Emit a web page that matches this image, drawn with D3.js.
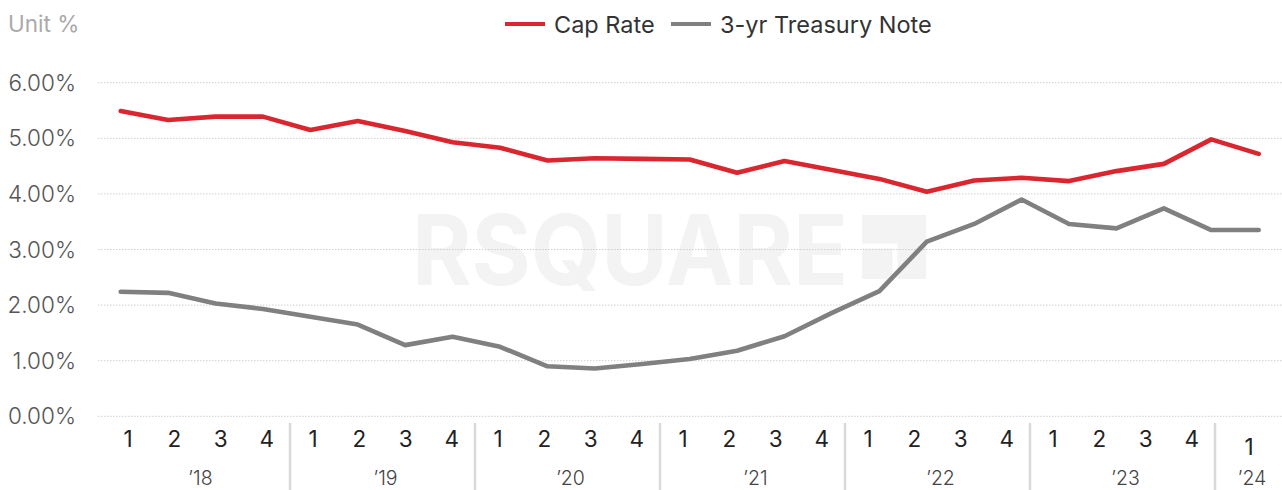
<!DOCTYPE html>
<html>
<head>
<meta charset="utf-8">
<script src="https://cdn.jsdelivr.net/npm/d3@7"></script>
<style>
  body { margin: 0; background: #fff; }
  svg { display: block; font-family: Inter, "Noto Sans", sans-serif; }
</style>
</head>
<body>
<div class="chart"></div>
<script>
// quarters shown on the axis
const years = ["’18", "’19", "’20", "’21", "’22", "’23", "’24"];
const quarters = ["1", "2", "3", "4"];
const periods = [
  "18Q1", "18Q2", "18Q3", "18Q4", "19Q1", "19Q2", "19Q3", "19Q4",
  "20Q1", "20Q2", "20Q3", "20Q4", "21Q1", "21Q2", "21Q3", "21Q4",
  "22Q1", "22Q2", "22Q3", "22Q4", "23Q1", "23Q2", "23Q3", "23Q4", "24Q1"
];

// values (%)
const capRate = [
  5.49, 5.33, 5.39, 5.39, 5.15, 5.31, 5.13, 4.93,
  4.83, 4.60, 4.64, 4.63, 4.62, 4.38, 4.59, 4.43,
  4.27, 4.04, 4.24, 4.29, 4.23, 4.41, 4.54, 4.98, 4.72
];
const treasury3y = [
  2.24, 2.22, 2.03, 1.93, 1.79, 1.65, 1.28, 1.43,
  1.25, 0.90, 0.86, 0.94, 1.03, 1.18, 1.44, 1.86,
  2.25, 3.14, 3.46, 3.90, 3.46, 3.38, 3.74, 3.35, 3.35
];
const yTicks = [0, 1, 2, 3, 4, 5, 6];

const width = 1282;
const height = 490;

const svg = d3.select('.chart')
  .append('svg')
  .attr('width', width)
  .attr('height', height);

// scales
const x = d3.scalePoint()
  .domain(periods)
  .range([120.7, 1258.7]);

const y = d3.scaleLinear()
  .domain([0, 6])
  .range([416.3, 82.7]);

// the category axis is laid out on its own grid
const axisKeys = periods.slice(0, 24);
const xLabel = d3.scaleBand()
  .domain(axisKeys)
  .range([105, 1215]);
const lastBand = [1215, 1283];

// unit label
svg.append('text')
  .attr('x', 8)
  .attr('y', 32)
  .attr('font-size', 22.5)
  .attr('fill', '#aaaaaa')
  .text('Unit %');

// watermark
const mark = svg.append('g').attr('fill', '#f3f3f3');
mark.append('text')
  .attr('x', 412)
  .attr('y', 285)
  .attr('font-size', 97)
  .attr('font-weight', 700)
  .attr('textLength', 436)
  .attr('lengthAdjust', 'spacingAndGlyphs')
  .text('RSQUARE');
mark.append('rect')
  .attr('x', 862).attr('y', 215)
  .attr('width', 64).attr('height', 64);
mark.append('path')
  .attr('d', 'M862 246 H895 V279')
  .attr('fill', 'none')
  .attr('stroke', '#fff')
  .attr('stroke-width', 5);

// gridlines
svg.append('g')
  .selectAll('line')
  .data(yTicks)
  .enter()
  .append('line')
  .attr('x1', 98)
  .attr('x2', width)
  .attr('y1', d => y(d))
  .attr('y2', d => y(d))
  .attr('stroke', '#cfcfcf')
  .attr('stroke-width', 1)
  .attr('stroke-dasharray', '1.5,1.5');

// y labels
svg.append('g')
  .selectAll('text')
  .data(yTicks)
  .enter()
  .append('text')
  .attr('x', 76)
  .attr('y', d => y(d) + 8)
  .attr('text-anchor', 'end')
  .attr('font-size', 22.5)
  .attr('font-weight', 300)
  .attr('fill', '#555555')
  .text(d => d3.format('.2f')(d) + '%');

// quarter labels
const qPos = p => p === '24Q1' ? (lastBand[0] + lastBand[1]) / 2 : xLabel(p) + xLabel.bandwidth() / 2;
svg.append('g')
  .selectAll('text')
  .data(periods)
  .enter()
  .append('text')
  .attr('x', d => qPos(d))
  .attr('y', d => d === '24Q1' ? 455 : 447)
  .attr('text-anchor', 'middle')
  .attr('font-size', 22.5)
  .attr('fill', '#222222')
  .text(d => quarters[+d.slice(3) - 1]);

// year labels and separators
const yearStart = i => i < 6 ? xLabel(axisKeys[i * 4]) : lastBand[0];
const yearEnd = i => i < 6 ? xLabel(axisKeys[i * 4 + 3]) + xLabel.bandwidth() : lastBand[1];
svg.append('g')
  .selectAll('text')
  .data(years)
  .enter()
  .append('text')
  .attr('x', (d, i) => (yearStart(i) + yearEnd(i)) / 2 + 3)
  .attr('y', 485)
  .attr('text-anchor', 'middle')
  .attr('font-size', 19.5)
  .attr('font-weight', 300)
  .attr('fill', '#444444')
  .text(d => d);

svg.append('g')
  .selectAll('line')
  .data(d3.range(1, 7))
  .enter()
  .append('line')
  .attr('x1', i => yearStart(i))
  .attr('x2', i => yearStart(i))
  .attr('y1', 423)
  .attr('y2', height)
  .attr('stroke', '#d9d9d9')
  .attr('stroke-width', 2.5);

// lines
const series = [
  { name: 'Cap Rate', values: capRate, color: '#d9262f' },
  { name: '3-yr Treasury Note', values: treasury3y, color: '#808080' }
];

const line = d3.line()
  .x((d, i) => x(periods[i]))
  .y(d => y(d));

svg.append('g')
  .selectAll('path')
  .data(series)
  .enter()
  .append('path')
  .attr('d', d => line(d.values))
  .attr('fill', 'none')
  .attr('stroke', d => d.color)
  .attr('stroke-width', 4.6)
  .attr('stroke-linejoin', 'round')
  .attr('stroke-linecap', 'round');

// legend
const legendX = [505, 671];
const legend = svg.append('g')
  .selectAll('g')
  .data(series)
  .enter()
  .append('g')
  .attr('transform', (d, i) => `translate(${legendX[i]},0)`);
legend.append('line')
  .attr('x1', 0).attr('x2', 40)
  .attr('y1', 24).attr('y2', 24)
  .attr('stroke', d => d.color)
  .attr('stroke-width', 4);
legend.append('text')
  .attr('x', 49)
  .attr('y', 33)
  .attr('font-size', 23.5)
  .attr('fill', '#333333')
  .text(d => d.name);
</script>
</body>
</html>
